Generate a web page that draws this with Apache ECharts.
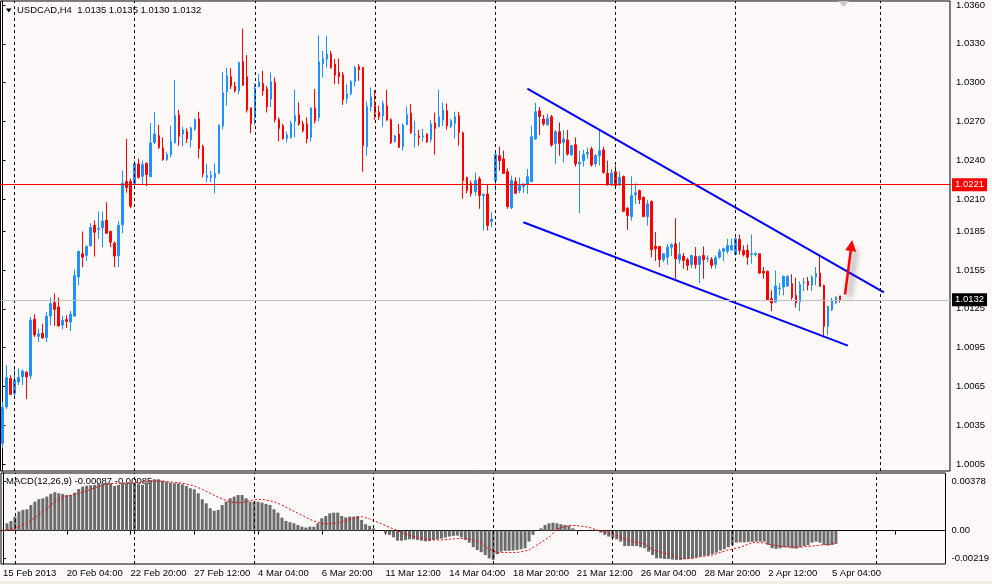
<!DOCTYPE html>
<html>
<head>
<meta charset="utf-8">
<script src="https://cdn.jsdelivr.net/npm/echarts@6/dist/echarts.min.js"></script>
<style>
html, body { margin: 0; padding: 0; background: #fdf9f8; }
#chart { width: 992px; height: 584px; }
</style>
</head>
<body>
<div id="chart"></div>
<script>
// USDCAD H4, 15 Feb 2013 12:00 .. 5 Apr 2013 - one entry per candle
var opens = [
	1.00210,1.00492,1.00712,1.00596,1.00685,1.00724,1.00760,1.00732,1.01169,1.01038,
	1.01061,1.01028,1.01195,1.01298,1.01264,1.01125,1.01167,1.01148,1.01195,1.01496,
	1.01676,1.01663,1.01738,1.01895,1.01866,1.01877,1.01933,1.01848,1.01758,1.01663,
	1.01900,1.02234,1.02234,1.02219,1.02371,1.02275,1.02375,1.02273,1.02538,1.02589,
	1.02494,1.02404,1.02443,1.02533,1.02749,1.02602,1.02620,1.02558,1.02641,1.02718,
	1.02504,1.02267,1.02267,1.02263,1.02298,1.02664,1.02931,1.03045,1.02973,1.02936,
	1.03163,1.03045,1.02803,1.02730,1.02970,1.02993,1.02950,1.02872,1.03001,1.02713,
	1.02666,1.02568,1.02576,1.02700,1.02751,1.02680,1.02680,1.02576,1.02803,1.02730,
	1.03147,1.03181,1.03220,1.03143,1.03078,1.03060,1.02877,1.02916,1.03006,1.03122,
	1.03116,1.02504,1.02813,1.02821,1.02769,1.02744,1.02821,1.02713,1.02543,1.02602,
	1.02504,1.02674,1.02764,1.02597,1.02587,1.02581,1.02602,1.02561,1.02687,1.02659,
	1.02710,1.02782,1.02659,1.02684,1.02744,1.02610,1.02265,1.02219,1.02157,1.02255,
	1.02126,1.02139,1.01926,1.02242,1.02435,1.02409,1.02311,1.02031,1.02234,1.02165,
	1.02196,1.02216,1.02234,1.02564,1.02782,1.02718,1.02674,1.02736,1.02530,1.02620,
	1.02538,1.02556,1.02440,1.02520,1.02371,1.02396,1.02448,1.02487,1.02371,1.02435,
	1.02479,1.02298,1.02209,1.02311,1.02209,1.02273,1.02028,1.01964,1.02132,1.02165,
	1.02113,1.01964,1.02080,1.01733,1.01733,1.01630,1.01650,1.01727,1.01753,1.01630,
	1.01658,1.01630,1.01594,1.01655,1.01594,1.01663,1.01638,1.01632,1.01594,1.01650,
	1.01696,1.01696,1.01707,1.01671,1.01787,1.01702,1.01702,1.01671,1.01669,1.01676,
	1.01540,1.01540,1.01329,1.01303,1.01406,1.01419,1.01426,1.01445,1.01354,1.01303,
	1.01453,1.01463,1.01432,1.01496,1.01527,1.01432,1.01115,1.01244,1.01295,1.01350
];
var closes = [
	1.00488,1.00719,1.00588,1.00699,1.00719,1.00768,1.00724,1.01162,1.01048,1.01056,
	1.01025,1.01192,1.01290,1.01246,1.01118,1.01162,1.01154,1.01208,1.01506,1.01694,
	1.01650,1.01733,1.01879,1.01843,1.01872,1.01928,1.01835,1.01766,1.01658,1.01895,
	1.02221,1.02188,1.02044,1.02373,1.02267,1.02365,1.02288,1.02533,1.02602,1.02499,
	1.02404,1.02443,1.02543,1.02744,1.02584,1.02633,1.02568,1.02649,1.02713,1.02491,
	1.02298,1.02281,1.02281,1.02298,1.02672,1.02921,1.03052,1.02975,1.02936,1.03155,
	1.02980,1.02788,1.02684,1.02957,1.03006,1.02936,1.02813,1.03006,1.02713,1.02646,
	1.02564,1.02595,1.02684,1.02744,1.02680,1.02628,1.02564,1.02803,1.02705,1.03160,
	1.03186,1.03220,1.03116,1.03058,1.03047,1.02867,1.02911,1.03006,1.03116,1.03099,
	1.02512,1.02813,1.02890,1.02769,1.02738,1.02838,1.02710,1.02535,1.02587,1.02499,
	1.02672,1.02751,1.02615,1.02602,1.02576,1.02587,1.02543,1.02680,1.02646,1.02736,
	1.02788,1.02666,1.02705,1.02736,1.02615,1.02242,1.02165,1.02142,1.02242,1.02126,
	1.02134,1.01895,1.01943,1.02443,1.02396,1.02298,1.02041,1.02242,1.02144,1.02203,
	1.02216,1.02273,1.02581,1.02774,1.02738,1.02680,1.02723,1.02517,1.02620,1.02530,
	1.02564,1.02448,1.02512,1.02371,1.02383,1.02443,1.02460,1.02363,1.02435,1.02473,
	1.02306,1.02209,1.02301,1.02203,1.02267,1.02005,1.01972,1.02126,1.02147,1.02095,
	1.01964,1.02062,1.01707,1.01715,1.01632,1.01676,1.01727,1.01746,1.01638,1.01671,
	1.01625,1.01586,1.01663,1.01591,1.01655,1.01630,1.01642,1.01586,1.01645,1.01694,
	1.01715,1.01740,1.01740,1.01792,1.01702,1.01669,1.01650,1.01676,1.01679,1.01527,
	1.01527,1.01321,1.01295,1.01426,1.01411,1.01501,1.01501,1.01337,1.01295,1.01437,
	1.01457,1.01432,1.01496,1.01522,1.01424,1.01115,1.01270,1.01316,1.01341,1.01320
];
var lows = [
	1.00171,1.00475,1.00583,1.00557,1.00660,1.00660,1.00552,1.00706,1.01033,1.00994,
	1.01020,1.00994,1.01123,1.01118,1.01113,1.01092,1.01102,1.01079,1.01187,1.01432,
	1.01573,1.01619,1.01733,1.01655,1.01792,1.01727,1.01831,1.01727,1.01573,1.01573,
	1.01835,1.02149,1.02028,1.02203,1.02257,1.02211,1.02198,1.02267,1.02525,1.02487,
	1.02396,1.02394,1.02422,1.02530,1.02512,1.02507,1.02533,1.02499,1.02628,1.02414,
	1.02267,1.02229,1.02229,1.02144,1.02294,1.02639,1.02821,1.02950,1.02923,1.02911,
	1.02975,1.02769,1.02607,1.02672,1.02962,1.02898,1.02769,1.02810,1.02692,1.02545,
	1.02560,1.02538,1.02566,1.02576,1.02666,1.02615,1.02530,1.02545,1.02684,1.02700,
	1.03039,1.03116,1.03106,1.02988,1.02988,1.02828,1.02838,1.02903,1.02970,1.03014,
	1.02311,1.02435,1.02777,1.02710,1.02710,1.02659,1.02705,1.02525,1.02538,1.02494,
	1.02473,1.02672,1.02602,1.02499,1.02512,1.02545,1.02533,1.02538,1.02443,1.02653,
	1.02666,1.02636,1.02649,1.02568,1.02512,1.02101,1.02142,1.02118,1.02126,1.02024,
	1.01856,1.01856,1.01882,1.02159,1.02319,1.02294,1.02024,1.02020,1.02139,1.02144,
	1.02147,1.02139,1.02229,1.02556,1.02595,1.02666,1.02666,1.02504,1.02371,1.02435,
	1.02383,1.02435,1.02435,1.02350,1.01990,1.02350,1.02412,1.02350,1.02350,1.02358,
	1.02294,1.02203,1.02198,1.02196,1.02198,1.01997,1.01861,1.01933,1.02062,1.02062,
	1.01959,1.01895,1.01650,1.01619,1.01573,1.01611,1.01591,1.01658,1.01483,1.01599,
	1.01561,1.01547,1.01565,1.01561,1.01449,1.01483,1.01611,1.01561,1.01561,1.01638,
	1.01619,1.01676,1.01696,1.01663,1.01669,1.01655,1.01591,1.01599,1.01655,1.01522,
	1.01483,1.01316,1.01233,1.01295,1.01354,1.01354,1.01422,1.01321,1.01260,1.01233,
	1.01388,1.01393,1.01388,1.01432,1.01420,1.01028,1.01046,1.01233,1.01290,1.01300
];
var highs = [
	1.00531,1.00814,1.00737,1.00797,1.00789,1.00781,1.00768,1.01187,1.01208,1.01097,
	1.01136,1.01226,1.01337,1.01368,1.01337,1.01195,1.01200,1.01233,1.01555,1.01702,
	1.01848,1.01740,1.01912,1.01933,1.02003,1.02003,1.02074,1.01856,1.01771,1.01928,
	1.02319,1.02566,1.02257,1.02396,1.02412,1.02396,1.02383,1.02687,1.02774,1.02672,
	1.02576,1.02466,1.02666,1.03021,1.02788,1.02659,1.02646,1.02659,1.02723,1.02774,
	1.02520,1.02371,1.02319,1.02375,1.02675,1.03083,1.03116,1.03112,1.03006,1.03163,
	1.03417,1.03212,1.02808,1.02993,1.03065,1.03091,1.02975,1.03078,1.03039,1.02730,
	1.02680,1.02620,1.02705,1.02942,1.02846,1.02705,1.02730,1.02808,1.02950,1.03366,
	1.03245,1.03361,1.03245,1.03183,1.03186,1.03083,1.02988,1.03019,1.03129,1.03143,
	1.03122,1.02852,1.02962,1.02942,1.02821,1.02859,1.02944,1.02723,1.02595,1.02680,
	1.02684,1.02813,1.02834,1.02705,1.02633,1.02641,1.02607,1.02710,1.02769,1.02944,
	1.02846,1.02838,1.02718,1.02774,1.02774,1.02620,1.02273,1.02242,1.02306,1.02273,
	1.02142,1.02216,1.01997,1.02466,1.02504,1.02473,1.02337,1.02281,1.02267,1.02267,
	1.02221,1.02332,1.02666,1.02842,1.02811,1.02749,1.02757,1.02749,1.02633,1.02692,
	1.02633,1.02633,1.02517,1.02576,1.02473,1.02479,1.02497,1.02504,1.02448,1.02641,
	1.02504,1.02396,1.02332,1.02358,1.02314,1.02281,1.02036,1.02275,1.02221,1.02172,
	1.02118,1.02093,1.02088,1.01843,1.01735,1.01681,1.01753,1.01758,1.01951,1.01766,
	1.01681,1.01645,1.01669,1.01727,1.01663,1.01733,1.01663,1.01650,1.01663,1.01715,
	1.01723,1.01792,1.01792,1.01810,1.01825,1.01740,1.01748,1.01825,1.01686,1.01678,
	1.01573,1.01547,1.01393,1.01547,1.01449,1.01509,1.01509,1.01517,1.01491,1.01463,
	1.01491,1.01496,1.01509,1.01573,1.01663,1.01437,1.01273,1.01337,1.01347,1.01350
];

// MACD(12,26,9) main line, drawn as histogram
var macdHist = [
	0.00002,0.00048,0.00063,0.00092,0.00125,0.00136,0.00140,0.00168,0.00190,0.00206,
	0.00212,0.00223,0.00241,0.00252,0.00245,0.00241,0.00234,0.00234,0.00249,0.00273,
	0.00289,0.00295,0.00297,0.00300,0.00308,0.00311,0.00313,0.00311,0.00293,0.00300,
	0.00311,0.00311,0.00311,0.00311,0.00304,0.00300,0.00311,0.00332,0.00337,0.00337,
	0.00328,0.00321,0.00315,0.00311,0.00311,0.00304,0.00293,0.00278,0.00271,0.00245,
	0.00206,0.00179,0.00147,0.00131,0.00136,0.00168,0.00190,0.00212,0.00223,0.00234,
	0.00234,0.00212,0.00190,0.00190,0.00190,0.00184,0.00175,0.00168,0.00140,0.00118,
	0.00085,0.00063,0.00055,0.00048,0.00037,0.00026,0.00020,0.00026,0.00026,0.00048,
	0.00081,0.00096,0.00114,0.00118,0.00118,0.00096,0.00087,0.00092,0.00092,0.00096,
	0.00070,0.00042,0.00031,0.00015,-0.00002,-0.00002,-0.00017,-0.00028,-0.00044,-0.00066,
	-0.00066,-0.00061,-0.00057,-0.00057,-0.00061,-0.00066,-0.00070,-0.00068,-0.00061,-0.00057,
	-0.00052,-0.00046,-0.00039,-0.00035,-0.00033,-0.00044,-0.00061,-0.00079,-0.00109,-0.00127,
	-0.00142,-0.00160,-0.00182,-0.00192,-0.00155,-0.00138,-0.00133,-0.00133,-0.00131,-0.00127,
	-0.00122,-0.00116,-0.00072,-0.00028,0.00001,0.00015,0.00037,0.00048,0.00052,0.00048,
	0.00042,0.00037,0.00033,0.00015,0.00004,0.00001,-0.00002,-0.00002,-0.00002,-0.00003,
	-0.00013,-0.00028,-0.00039,-0.00050,-0.00057,-0.00072,-0.00101,-0.00101,-0.00101,-0.00101,
	-0.00109,-0.00116,-0.00138,-0.00160,-0.00182,-0.00182,-0.00186,-0.00186,-0.00190,-0.00192,
	-0.00192,-0.00188,-0.00184,-0.00182,-0.00175,-0.00171,-0.00164,-0.00160,-0.00153,-0.00144,
	-0.00131,-0.00122,-0.00109,-0.00094,-0.00079,-0.00077,-0.00077,-0.00074,-0.00074,-0.00072,
	-0.00072,-0.00072,-0.00094,-0.00116,-0.00120,-0.00116,-0.00109,-0.00109,-0.00116,-0.00118,
	-0.00109,-0.00101,-0.00096,-0.00079,-0.00072,-0.00079,-0.00094,-0.00098,-0.00094,-0.00087
];
// signal line, read at [candle index, value]
var macdSignal = [
	[0,-0.00002],[3,0.00015],[6,0.00048],[9,0.00103],[12,0.00168],[14,0.00206],[16,0.00227],
	[18,0.00238],[20,0.00252],[22,0.00271],[24,0.00289],[26,0.00304],[28,0.00311],[30,0.00311],
	[33,0.00315],[36,0.00321],[38,0.00326],[40,0.00324],[42,0.00319],[44,0.00315],[46,0.00306],
	[48,0.00293],[50,0.00271],[52,0.00245],[54,0.00219],[56,0.00197],[58,0.00184],[60,0.00184],
	[62,0.00197],[64,0.00206],[66,0.00201],[68,0.00190],[70,0.00168],[72,0.00140],[74,0.00114],
	[76,0.00087],[78,0.00063],[80,0.00048],[82,0.00044],[84,0.00052],[86,0.00066],[88,0.00081],
	[90,0.00092],[92,0.00077],[94,0.00055],[96,0.00033],[98,0.00011],[100,-0.00011],[102,-0.00031],
	[104,-0.00044],[106,-0.00055],[108,-0.00061],[110,-0.00061],[112,-0.00057],[114,-0.00052],
	[116,-0.00052],[118,-0.00061],[120,-0.00083],[122,-0.00122],[124,-0.00144],[129,-0.00144],
	[132,-0.00127],[134,-0.00094],[137,-0.00044],[139,0.00009],[142,0.00035],[144,0.00033],
	[147,0.00022],[149,0.00004],[152,-0.00013],[155,-0.00044],[158,-0.00072],[161,-0.00087],
	[163,-0.00127],[167,-0.00155],[170,-0.00182],[173,-0.00182],[175,-0.00171],[178,-0.00160],
	[182,-0.00127],[185,-0.00109],[188,-0.00079],[191,-0.00079],[193,-0.00094],[197,-0.00109],
	[200,-0.00109],[203,-0.00101],[209,-0.00085]
];

var tickLabels = ['15 Feb 2013', '20 Feb 04:00', '22 Feb 20:00', '27 Feb 12:00', '4 Mar 04:00',
	'6 Mar 20:00', '11 Mar 12:00', '14 Mar 04:00', '18 Mar 20:00', '21 Mar 12:00',
	'26 Mar 04:00', '28 Mar 20:00', '2 Apr 12:00', '5 Apr 04:00'];
var priceTicks = [1.0360, 1.0330, 1.0300, 1.0270, 1.0240, 1.0210, 1.0185, 1.0155, 1.0125, 1.0095, 1.0065, 1.0035, 1.0005];
var macdTicks = [0.00378, 0, -0.00219];
var macdTickText = ['0.00378', '0.00', '-0.00219'];
var gridCandles = [3, 33, 63, 93, 123, 153, 183, 219]; // dashed separators
var levelLine = 1.0221;
var bidLine = 1.0132;
var upperTrend = [[131, 1.02954], [220, 1.01378]];
var lowerTrend = [[130, 1.01920], [211, 1.00966]];
var arrowPath = [[210.3, 1.01362], [211.9, 1.01740]];

var N = 237; // candle slots incl. the empty shift on the right
var priceMin = 0.99996, priceMax = 1.03631;

function hasFont(name) {
	var c = document.createElement('canvas').getContext('2d');
	c.font = '20px monospace';
	var w0 = c.measureText('1.0360 USDCAD').width;
	c.font = '20px "' + name + '", monospace';
	return c.measureText('1.0360 USDCAD').width !== w0;
}
var narrow = hasFont('Liberation Sans Narrow');
var FONT = narrow ? "'Liberation Sans Narrow'" : "'Liberation Sans', Arial, sans-serif";
var FS = narrow ? 11 : 9.5;

var categories = [];
for (var i = 0; i < N; i++) {
	categories.push(i % 16 === 0 && tickLabels[i / 16] ? tickLabels[i / 16] : '');
}
var candles = opens.map(function(o, i) {
	return [o, closes[i], lows[i], highs[i]];
});

// put the MACD top/bottom labels just inside the panel like the terminal does
var macdRange = macdTicks[0] - macdTicks[2];
var macdLabelPos = [macdTicks[0] - macdRange * 0.088, 0, macdTicks[2] + macdRange * 0.066];

function levelLabel(bg, text) {
	return {
		show: true, position: 'end', distance: 2, formatter: text,
		color: '#fff', backgroundColor: bg, padding: [2, 3, 1, 3],
		fontFamily: FONT, fontSize: FS
	};
}

var chart = echarts.init(document.getElementById('chart'));
chart.setOption({
	animation: false,
	backgroundColor: '#fdf9f8',
	textStyle: { fontFamily: FONT },
	grid: [
		{ left: 0.5, top: 0, width: 949.5, height: 471, show: true, borderColor: '#000', borderWidth: 1 },
		{ left: 0.5, top: 473, width: 949.5, height: 91, show: true, borderColor: '#000', borderWidth: 1 }
	],
	xAxis: [
		{ type: 'category', gridIndex: 0, data: categories, boundaryGap: true,
			axisLine: { show: false }, axisTick: { show: false }, axisLabel: { show: false }, splitLine: { show: false } },
		{ type: 'category', gridIndex: 1, data: categories, boundaryGap: true,
			axisLine: { show: true, lineStyle: { color: '#000' } },
			axisTick: { show: true, interval: 15, alignWithLabel: true, length: 4, lineStyle: { color: '#000' } },
			axisLabel: { interval: 15, align: 'left', margin: 4, color: '#000', fontFamily: FONT, fontSize: FS },
			splitLine: { show: false } },
		{ type: 'value', gridIndex: 0, min: -0.5, max: N - 0.5, show: false },
		{ type: 'value', gridIndex: 1, min: -0.5, max: N - 0.5, show: false }
	],
	yAxis: [
		{ type: 'value', gridIndex: 0, position: 'right', min: priceMin, max: priceMax,
			splitLine: { show: false },
			axisLine: { show: true, lineStyle: { color: '#000' } },
			axisTick: { show: true, length: 3, customValues: priceTicks, lineStyle: { color: '#000' } },
			axisLabel: { customValues: priceTicks, margin: 6, color: '#000', fontFamily: FONT, fontSize: FS,
				formatter: function(v) { return v.toFixed(4); } } },
		{ type: 'value', gridIndex: 1, position: 'right', min: macdTicks[2], max: macdTicks[0],
			splitLine: { show: false },
			axisLine: { show: true, lineStyle: { color: '#000' } },
			axisTick: { show: true, length: 3, customValues: macdLabelPos, lineStyle: { color: '#000' } },
			axisLabel: { customValues: macdLabelPos, margin: 6, color: '#000', fontFamily: FONT, fontSize: FS,
				formatter: function(v) {
					var best = 0;
					macdLabelPos.forEach(function(p, k) {
						if (Math.abs(p - v) < Math.abs(macdLabelPos[best] - v)) best = k;
					});
					return macdTickText[best];
				} } }
	],
	graphic: [
		{ type: 'polygon', shape: { points: [[6, 8.5], [11.5, 8.5], [8.75, 12.5]] }, style: { fill: '#000' } },
		{ type: 'text', x: 17, y: 10.5, style: { text: 'USDCAD,H4  1.0135 1.0135 1.0130 1.0132', fill: '#000',
			font: FS + 'px ' + FONT, verticalAlign: 'middle' } },
		{ type: 'polygon', shape: { points: [[838, 1], [849, 1], [843.5, 7]] }, style: { fill: '#c8c8c8' } },
		{ type: 'text', x: 6, y: 481, style: { text: 'MACD(12,26,9) -0.00087 -0.00085', fill: '#000',
			font: FS + 'px ' + FONT, verticalAlign: 'middle' } },
		{ type: 'rect', shape: { x: 0, y: 581, width: 992, height: 3 }, style: { fill: '#f1eee4' } }
	],
	series: [
		{
			type: 'line', xAxisIndex: 2, yAxisIndex: 0, data: [], z: 1, silent: true,
			markLine: { silent: true, precision: 5, symbol: ['none', 'none'], label: { show: false },
				lineStyle: { color: '#000', type: [3, 3], width: 1 },
				data: gridCandles.map(function(c) { return { xAxis: c }; }).concat([
					{ yAxis: levelLine, lineStyle: { color: '#ff0000', width: 1, type: 'solid' },
						label: levelLabel('#ff0000', levelLine.toFixed(4)) },
					{ yAxis: bidLine, lineStyle: { color: '#c0c0c0', width: 1, type: 'solid' },
						label: levelLabel('#000000', bidLine.toFixed(4)) }
				]) }
		},
		{
			type: 'candlestick', xAxisIndex: 0, yAxisIndex: 0, data: candles, z: 2,
			barWidth: 2,
			itemStyle: { color: '#1e90ff', color0: '#ff0000', borderColor: '#1e90ff', borderColor0: '#ff0000',
				borderColorDoji: '#1e90ff', borderWidth: 1 }
		},
		{
			type: 'line', xAxisIndex: 2, yAxisIndex: 0, data: upperTrend, z: 3, silent: true,
			symbol: 'none', lineStyle: { color: '#0000ff', width: 2 }
		},
		{
			type: 'line', xAxisIndex: 2, yAxisIndex: 0, data: lowerTrend, z: 3, silent: true,
			symbol: 'none', lineStyle: { color: '#0000ff', width: 2 }
		},
		{
			type: 'line', xAxisIndex: 2, yAxisIndex: 0, data: [], z: 4, silent: true,
			markLine: { silent: true, precision: 5, symbol: ['none', 'triangle'], symbolSize: 11, label: { show: false },
				lineStyle: { color: '#ff0000', width: 2.5, type: 'solid',
					shadowBlur: 6, shadowColor: 'rgba(0,0,0,0.55)', shadowOffsetX: 4, shadowOffsetY: 3 },
				itemStyle: { color: '#ff0000', shadowBlur: 6, shadowColor: 'rgba(0,0,0,0.55)', shadowOffsetX: 4, shadowOffsetY: 3 },
				data: [[{ coord: arrowPath[0] }, { coord: arrowPath[1] }]] }
		},
		{
			type: 'line', xAxisIndex: 3, yAxisIndex: 1, data: [], z: 1, silent: true,
			markLine: { silent: true, symbol: ['none', 'none'], label: { show: false },
				lineStyle: { color: '#000', type: [3, 3], width: 1 },
				data: gridCandles.map(function(c) { return { xAxis: c }; }) }
		},
		{
			type: 'bar', xAxisIndex: 1, yAxisIndex: 1, data: macdHist, z: 2, silent: true,
			barWidth: 3, itemStyle: { color: '#6b6b6b' }
		},
		{
			type: 'line', xAxisIndex: 3, yAxisIndex: 1, data: macdSignal, z: 3, silent: true,
			symbol: 'none', lineStyle: { color: '#ff0000', width: 1, type: [2, 2] }
		}
	]
});
</script>
</body>
</html>
